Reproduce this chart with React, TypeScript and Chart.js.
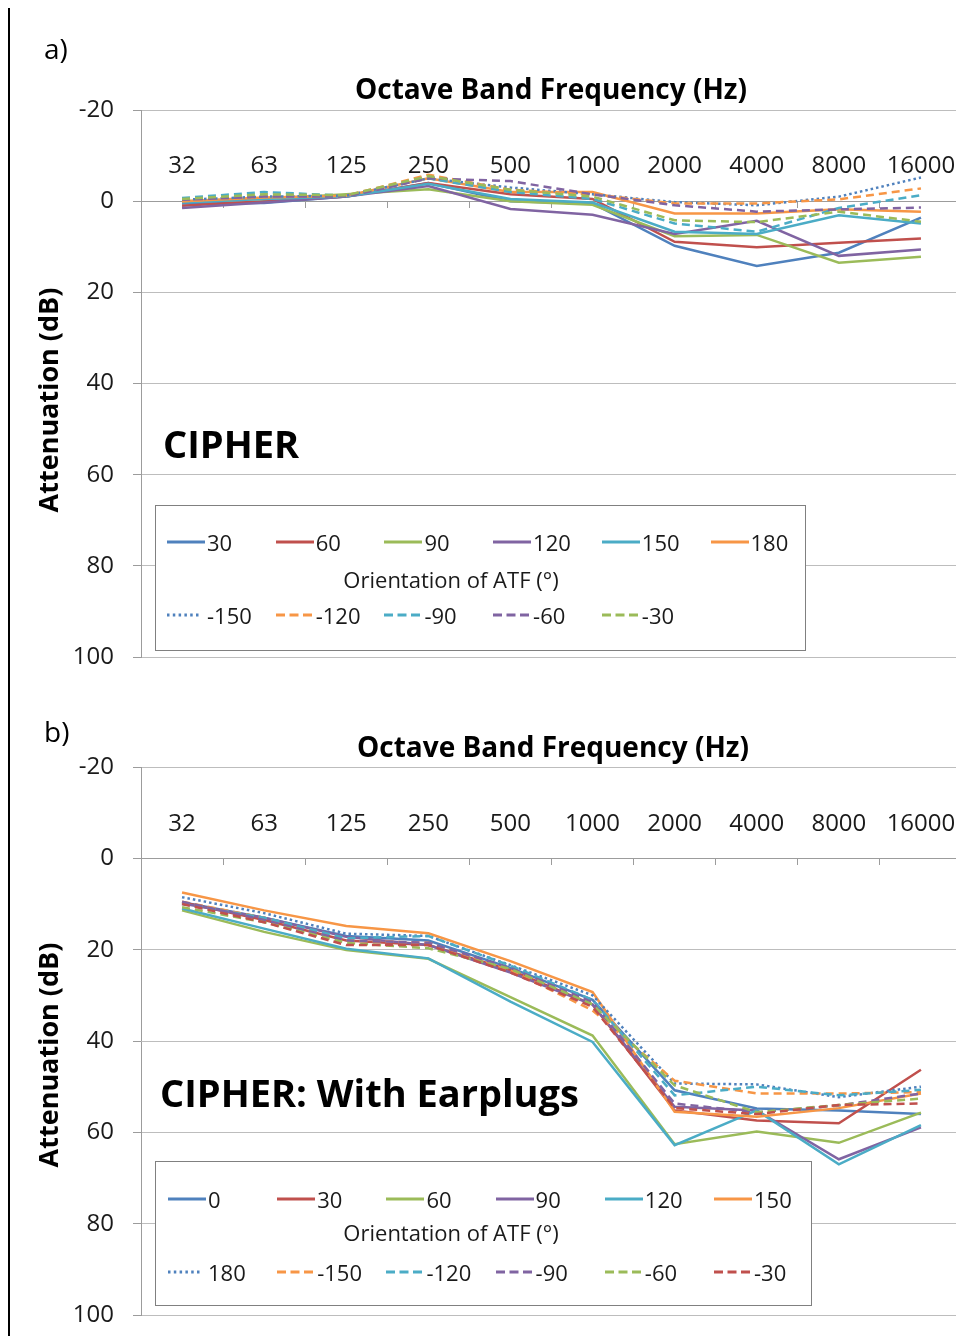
import React, { useEffect, useRef } from 'react';
import { Chart, registerables } from 'chart.js';

Chart.register(...registerables);

const FONT = '"Open Sans", "Liberation Sans", sans-serif';

// ---------- data ----------
const FREQUENCIES = ['32', '63', '125', '250', '500', '1000', '2000', '4000', '8000', '16000'];
const Y_MIN = -20;
const Y_MAX = 100;
const Y_STEP = 20;

// Panel a) CIPHER
const A_LABELS = ['30', '60', '90', '120', '150', '180', '-150', '-120', '-90', '-60', '-30'];
const A_30 = [0.5, 0.4, -1, -4, 0, 0.5, 9.8, 14.2, 11.3, 3.6];
const A_60 = [1, 0, -1, -4, -1.5, -0.5, 8.9, 10.1, 9.1, 8.2];
const A_90 = [0, -0.5, -1.5, -2.6, 0, 0.8, 7.7, 7.4, 13.5, 12.2];
const A_120 = [1.5, 0.3, -1, -3.3, 1.7, 3, 7.2, 4.3, 12, 10.6];
const A_150 = [0.3, -0.5, -1, -3.8, -0.5, 0.3, 6.7, 7.2, 3.1, 4.9];
const A_180 = [0, -0.8, -1.2, -5, -2, -2, 2.7, 2.7, 1.8, 2.3];
const A_M150 = [-0.3, -1, -1.2, -5, -3, -1.5, 0.2, 0.9, -1, -5.2];
const A_M120 = [0, -1, -1.2, -5.8, -2.5, -1.5, 0.5, 0.5, -0.4, -2.8];
const A_M90 = [-0.7, -2, -1.2, -5, -2, -0.5, 4.9, 6.7, 1.5, -1.3];
const A_M60 = [-0.3, -1, -1, -5, -4.4, -1.5, 0.9, 2.3, 1.8, 1.4];
const A_M30 = [-0.5, -1.5, -1.3, -5.5, -2.5, -1, 4.2, 4.6, 2.3, 4.5];
const A_SERIES = [A_30, A_60, A_90, A_120, A_150, A_180, A_M150, A_M120, A_M90, A_M60, A_M30];

// Panel b) CIPHER: With Earplugs
const B_LABELS = ['0', '30', '60', '90', '120', '150', '180', '-150', '-120', '-90', '-60', '-30'];
const B_0 = [9.6, 13, 17, 18, 24, 31, 50.8, 54.8, 55.2, 56];
const B_30 = [9.6, 13.5, 18, 19, 24.5, 32, 55.2, 57.4, 58, 46.3];
const B_60 = [11.4, 16.1, 20.1, 22, 30.4, 38.8, 62.6, 59.8, 62.3, 55.7];
const B_90 = [9.9, 13, 17.2, 19, 25, 32, 54.4, 55.2, 65.9, 58.9];
const B_120 = [11, 15.4, 19.8, 21.9, 31.4, 40.2, 62.8, 55.2, 67, 58.4];
const B_150 = [7.5, 11.4, 14.8, 16.4, 22.5, 29.3, 55.5, 56.6, 54.7, 51.5];
const B_180 = [8.5, 12, 16.5, 17, 23.4, 30, 49.3, 49.5, 52.3, 50];
const B_M150 = [9.5, 13, 18, 18.5, 24.5, 33.3, 48.7, 51.5, 51.5, 51.2];
const B_M120 = [10, 13, 17.5, 17, 23.5, 31, 51.9, 50, 51.9, 50.7];
const B_M90 = [9.5, 13.5, 18, 18.5, 24, 31.5, 53.7, 55.6, 54.1, 51.5];
const B_M60 = [10.7, 14, 18.5, 19.7, 24.2, 32, 49.7, 55.6, 54, 52.6];
const B_M30 = [10, 14, 19, 19, 25, 32.5, 54.7, 56, 54, 53.7];
const B_SERIES = [B_0, B_30, B_60, B_90, B_120, B_150, B_180, B_M150, B_M120, B_M90, B_M60, B_M30];

// ---------- styles ----------
const BLUE = '#4F81BD';
const RED = '#C0504D';
const GREEN = '#9BBB59';
const PURPLE = '#8064A2';
const TEAL = '#4BACC6';
const ORANGE = '#F79646';

type Style = { color: string; kind: 'solid' | 'dot' | 'dash' };
const A_STYLES: Style[] = [
  { color: BLUE, kind: 'solid' }, { color: RED, kind: 'solid' }, { color: GREEN, kind: 'solid' },
  { color: PURPLE, kind: 'solid' }, { color: TEAL, kind: 'solid' }, { color: ORANGE, kind: 'solid' },
  { color: BLUE, kind: 'dot' }, { color: ORANGE, kind: 'dash' }, { color: TEAL, kind: 'dash' },
  { color: PURPLE, kind: 'dash' }, { color: GREEN, kind: 'dash' },
];
const B_STYLES: Style[] = [
  { color: BLUE, kind: 'solid' }, { color: RED, kind: 'solid' }, { color: GREEN, kind: 'solid' },
  { color: PURPLE, kind: 'solid' }, { color: TEAL, kind: 'solid' }, { color: ORANGE, kind: 'solid' },
  { color: BLUE, kind: 'dot' }, { color: ORANGE, kind: 'dash' }, { color: TEAL, kind: 'dash' },
  { color: PURPLE, kind: 'dash' }, { color: GREEN, kind: 'dash' }, { color: RED, kind: 'dash' },
];

const GRID = '#bdbdbd';
const AXIS = '#9c9c9c';
const TEXT = '#1a1a1a';

const chartDash = (k: Style['kind']) => (k === 'dot' ? [2.5, 3] : k === 'dash' ? [8, 5] : []);
const svgDash = (k: Style['kind']) => (k === 'dot' ? '2.5 3.3' : k === 'dash' ? '9 4.5' : undefined);
const svgLen = (k: Style['kind']) => (k === 'dot' ? 34 : k === 'dash' ? 36 : 38);

function makeConfig(series: number[][], labels: string[], styles: Style[], padTop: number, padBottom: number): any {
  return {
    type: 'line',
    data: {
      labels: FREQUENCIES,
      datasets: series.map((d, i) => ({
        label: labels[i],
        data: d,
        borderColor: styles[i].color,
        backgroundColor: styles[i].color,
        borderWidth: 2.5,
        borderDash: chartDash(styles[i].kind),
        borderCapStyle: 'butt',
        pointRadius: 0,
        fill: false,
        tension: 0,
        order: series.length - i,
      })),
    },
    options: {
      animation: false,
      responsive: false,
      maintainAspectRatio: false,
      layout: { padding: { top: padTop, bottom: padBottom, left: 0, right: 2 } },
      plugins: { legend: { display: false }, tooltip: { enabled: false }, title: { display: false } },
      scales: {
        x: {
          type: 'category',
          position: { y: 0 },
          offset: true,
          grid: { offset: true, drawOnChartArea: false, drawTicks: true, tickLength: 6, color: AXIS },
          border: { display: true, color: AXIS, width: 1 },
          ticks: {
            padding: -55,
            font: { family: FONT, size: 24 },
            color: TEXT,
            maxRotation: 0,
            minRotation: 0,
            autoSkip: false,
          },
          afterFit: (s: any) => {
            s.paddingLeft = 0;
            s.paddingRight = 0;
          },
        },
        y: {
          type: 'linear',
          position: 'left',
          reverse: true,
          min: Y_MIN,
          max: Y_MAX,
          ticks: { stepSize: Y_STEP, padding: 19, font: { family: FONT, size: 24 }, color: TEXT },
          grid: { color: GRID, drawTicks: true, tickLength: 8, tickColor: AXIS },
          border: { display: true, color: AXIS, width: 1 },
          afterFit: (s: any) => {
            s.width = 133;
            s.paddingTop = 0;
            s.paddingBottom = 0;
          },
        },
      },
    },
  };
}

function Legend(props: { left: number; top: number; width: number; height: number; labels: string[]; styles: Style[]; rows: number[]; spacing: number; firstX: number; titleX: number }) {
  const { left, top, width, height, labels, styles, rows, spacing, firstX, titleX } = props;
  return (
    <div
      style={{
        position: 'absolute', left, top, width, height, boxSizing: 'border-box',
        border: '1.5px solid #808080', background: '#fff', fontFamily: FONT, fontSize: 22, color: TEXT,
      }}
    >
      {labels.map((lab, i) => {
        const row = i < 6 ? 0 : 1;
        const col = i < 6 ? i : i - 6;
        const cy = row === 0 ? rows[0] : rows[2];
        const x = firstX + col * spacing;
        return (
          <React.Fragment key={i}>
            <svg style={{ position: 'absolute', left: x, top: cy - 3 }} width={40} height={6}>
              <line x1={0} y1={3} x2={svgLen(styles[i].kind)} y2={3} stroke={styles[i].color} strokeWidth={3} strokeDasharray={svgDash(styles[i].kind)} />
            </svg>
            <div style={{ position: 'absolute', left: x + 40, top: cy, transform: 'translateY(-50%)', lineHeight: 1, whiteSpace: 'nowrap' }}>{lab}</div>
          </React.Fragment>
        );
      })}
      <div style={{ position: 'absolute', left: titleX, top: rows[1], transform: 'translate(-50%, -50%)', lineHeight: 1, whiteSpace: 'nowrap' }}>
        Orientation of ATF (°)
      </div>
    </div>
  );
}

const abs = (left: number, top: number, extra: any = {}) => ({
  position: 'absolute' as const, left, top, transform: 'translateY(-50%)', lineHeight: 1, whiteSpace: 'nowrap' as const, fontFamily: FONT, color: '#000', ...extra,
});

export default function App() {
  const refA = useRef<HTMLCanvasElement>(null);
  const refB = useRef<HTMLCanvasElement>(null);

  useEffect(() => {
    const ca = new Chart(refA.current as HTMLCanvasElement, makeConfig(A_SERIES, A_LABELS, A_STYLES, 105, 28));
    const cb = new Chart(refB.current as HTMLCanvasElement, makeConfig(B_SERIES, B_LABELS, B_STYLES, 82, 16));
    return () => {
      ca.destroy();
      cb.destroy();
    };
  }, []);

  return (
    <div style={{ position: 'relative', width: 956, height: 1331, marginTop: -3, background: '#fff' }}>
      <canvas ref={refA} width={956} height={680} style={{ position: 'absolute', left: 0, top: 0, width: 956, height: 680 }} />
      <canvas ref={refB} width={956} height={646} style={{ position: 'absolute', left: 0, top: 680, width: 956, height: 646 }} />

      <div style={{ position: 'absolute', left: 0, top: 0, width: 956, height: 1331, borderTop: '2px solid #000', borderLeft: '2px solid #000', boxSizing: 'border-box', pointerEvents: 'none' }} />

      {/* panel a texts */}
      <div style={abs(36, 43, { fontSize: 28 })}>a)</div>
      <div style={abs(543, 83, { fontSize: 28, fontWeight: 700, transform: 'translate(-50%, -50%)' })}>Octave Band Frequency (Hz)</div>
      <div style={abs(39, 395, { fontSize: 27, fontWeight: 700, transform: 'translate(-50%, -50%) rotate(-90deg)' })}>Attenuation (dB)</div>
      <div style={abs(155, 438, { fontSize: 38, fontWeight: 700 })}>CIPHER</div>
      <Legend left={147} top={500} width={651} height={146} labels={A_LABELS} styles={A_STYLES} rows={[36, 73, 109]} spacing={108.7} firstX={11} titleX={295} />

      {/* panel b texts */}
      <div style={abs(36, 726, { fontSize: 28 })}>b)</div>
      <div style={abs(545, 741, { fontSize: 28, fontWeight: 700, transform: 'translate(-50%, -50%)' })}>Octave Band Frequency (Hz)</div>
      <div style={abs(39, 1050, { fontSize: 27, fontWeight: 700, transform: 'translate(-50%, -50%) rotate(-90deg)' })}>Attenuation (dB)</div>
      <div style={abs(152, 1087, { fontSize: 38, fontWeight: 700 })}>CIPHER: With Earplugs</div>
      <Legend left={147} top={1156} width={657} height={145} labels={B_LABELS} styles={B_STYLES} rows={[37, 70, 110]} spacing={109.2} firstX={12} titleX={295} />
    </div>
  );
}
